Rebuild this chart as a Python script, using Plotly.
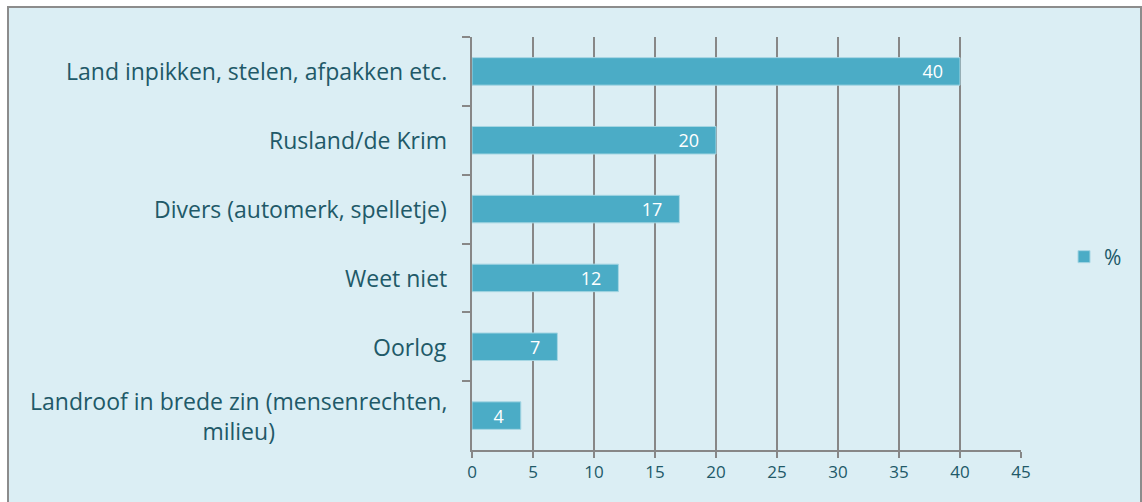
import plotly.graph_objects as go

categories = [
    "Land inpikken, stelen, afpakken etc.",
    "Rusland/de Krim",
    "Divers (automerk, spelletje)",
    "Weet niet",
    "Oorlog",
    "Landroof in brede zin (mensenrechten,<br>milieu)",
]
values = [40, 20, 17, 12, 7, 4]
x_ticks = [0, 5, 10, 15, 20, 25, 30, 35, 40, 45]
series_name = "%"

W, H = 1142, 502
ML, MR, MT, MB = 472, 121, 37, 52
PW = W - ML - MR
PH = H - MT - MB

BG = "#DBEEF4"
BAR = "#4BACC6"
TXT = "#215968"
GRID = "#878787"
FONT = "Open Sans"
NBSP = "\u00a0"

fig = go.Figure()
fig.add_trace(go.Bar(
    y=categories, x=values, orientation="h", name=series_name,
    marker=dict(color=BAR, line=dict(color="#A6D6E3", width=1)),
    width=0.4,
    text=[str(v) + NBSP * 3 for v in values], textposition="inside",
    insidetextanchor="end", textangle=0, constraintext="none",
    textfont=dict(color="white", size=18, family=FONT),
    showlegend=True,
))

def px_x(p):
    return (p - ML) / PW

def px_y(p):
    return (H - MB - p) / PH

fig.add_shape(type="rect", xref="paper", yref="paper",
              x0=px_x(8), x1=px_x(1141), y0=px_y(506), y1=px_y(7),
              fillcolor=BG, line=dict(color="#8C8C8C", width=2), layer="below")

for c in categories:
    fig.add_annotation(xref="paper", yref="y", x=0, y=c, text=c,
                       xanchor="right", xshift=-23, showarrow=False,
                       align="center", font=dict(size=23, color=TXT, family=FONT))

fig.update_layout(
    width=W, height=H,
    margin=dict(l=ML, r=MR, t=MT, b=MB),
    paper_bgcolor="white",
    plot_bgcolor="rgba(0,0,0,0)",
    font=dict(family=FONT, color=TXT),
    legend=dict(x=px_x(1064), y=px_y(257), yanchor="middle", xanchor="left",
                font=dict(size=21, color=TXT, family=FONT),
                bgcolor="rgba(0,0,0,0)", itemwidth=30),
    xaxis=dict(range=[0, 45], tickvals=x_ticks, ticktext=[str(t) for t in x_ticks],
               showgrid=True, gridcolor=GRID, gridwidth=2,
               showline=True, linecolor=GRID, linewidth=2,
               ticks="outside", ticklen=6, tickcolor=GRID, tickwidth=2,
               tickfont=dict(size=17, color=TXT, family=FONT), zeroline=False),
    yaxis=dict(autorange="reversed", showticklabels=False,
               showline=True, linecolor=GRID, linewidth=2,
               ticks="outside", tickson="boundaries", ticklen=8,
               tickcolor=GRID, tickwidth=2, showgrid=False, zeroline=False),
)

fig.write_html("out.html", config={"displayModeBar": False},
               post_script="document.body.style.margin='0';")
